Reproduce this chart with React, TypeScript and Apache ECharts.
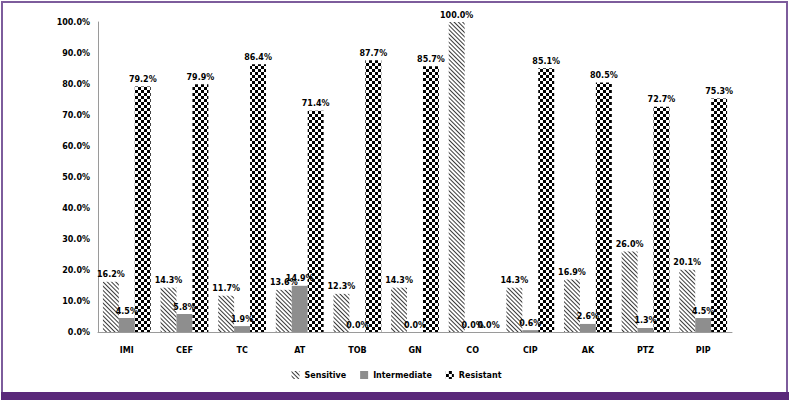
import React, { useEffect, useRef } from "react";
import * as echarts from "echarts";

const categories = ["IMI", "CEF", "TC", "AT", "TOB", "GN", "CO", "CIP", "AK", "PTZ", "PIP"];
const sensitive = [16.2, 14.3, 11.7, 13.6, 12.3, 14.3, 100.0, 14.3, 16.9, 26.0, 20.1];
const intermediate = [4.5, 5.8, 1.9, 14.9, 0.0, 0.0, 0.0, 0.6, 2.6, 1.3, 4.5];
const resistant = [79.2, 79.9, 86.4, 71.4, 87.7, 85.7, 0.0, 85.1, 80.5, 72.7, 75.3];

const FONT = "DejaVu Sans";

export default function App() {
  const ref = useRef<HTMLDivElement>(null);
  useEffect(() => {
    document.body.style.margin = "0";
    const chart = echarts.init(ref.current!, null, { renderer: "svg" });
    const label = {
      show: true,
      position: "top" as const,
      distance: 3,
      fontFamily: FONT,
      fontWeight: "bold" as const,
      fontSize: 8,
      color: "#000",
      formatter: (p: any) => Number(p.value).toFixed(1) + "%",
    };
    chart.setOption({
      animation: false,
      backgroundColor: "#fff",
      grid: { left: 98, right: 61, top: 22, bottom: 71, containLabel: false },
      legend: {
        bottom: 19,
        left: "center",
        itemWidth: 8,
        itemHeight: 8,
        itemGap: 14,
        icon: "rect",
        textStyle: { fontFamily: FONT, fontWeight: "bold", fontSize: 8, color: "#000" },
        data: ["Sensitive", "Intermediate", "Resistant"],
      },
      xAxis: {
        type: "category",
        data: categories,
        axisTick: { show: false },
        axisLine: { lineStyle: { color: "#9a9a9a", width: 1 } },
        axisLabel: { margin: 14, fontFamily: FONT, fontWeight: "bold", fontSize: 8, color: "#000" },
      },
      yAxis: {
        type: "value",
        min: 0,
        max: 100,
        interval: 10,
        splitLine: { show: false },
        axisTick: { show: false },
        axisLine: { show: true, lineStyle: { color: "#9a9a9a", width: 1 } },
        axisLabel: {
          margin: 8,
          fontFamily: FONT,
          fontWeight: "bold",
          fontSize: 8,
          color: "#000",
          formatter: (v: number) => v.toFixed(1) + "%",
        },
      },
      series: [
        {
          name: "Sensitive",
          type: "bar",
          data: sensitive,
          barGap: "0%",
          barCategoryGap: "17%",
          label,
          itemStyle: {
            color: "#ffffff",
            decal: {
              symbol: "rect",
              symbolSize: 1,
              color: "#3a3a3a",
              dashArrayX: [1, 0],
              dashArrayY: [1, 1.4],
              rotation: Math.PI / 4,
            },
          },
        },
        {
          name: "Intermediate",
          type: "bar",
          data: intermediate,
          label,
          itemStyle: {
            color: "#8e8e8e",
            decal: {
              symbol: "circle",
              symbolSize: 0.7,
              color: "rgba(185,185,185,0.6)",
              dashArrayX: [1, 1],
              dashArrayY: [1, 1],
              rotation: 0,
            },
          },
        },
        {
          name: "Resistant",
          type: "bar",
          data: resistant,
          label,
          itemStyle: {
            color: "#ffffff",
            decal: {
              symbol: "rect",
              symbolSize: 1,
              color: "#000000",
              dashArrayX: [[3, 3], [0, 3, 3, 0]],
              dashArrayY: [3, 0],
              rotation: 0,
            },
          },
        },
      ],
      graphic: [
        {
          type: "rect",
          shape: { x: 2, y: 2, width: 785, height: 392 },
          style: { fill: "none", stroke: "#7d5c9c", lineWidth: 2 },
          silent: true,
        },
        {
          type: "rect",
          shape: { x: 1, y: 392, width: 788, height: 8 },
          style: { fill: "#5a287a" },
          silent: true,
        },
      ],
    });
    return () => chart.dispose();
  }, []);
  return <div ref={ref} style={{ width: 793, height: 403, position: "absolute", left: 0, top: 0 }} />;
}
